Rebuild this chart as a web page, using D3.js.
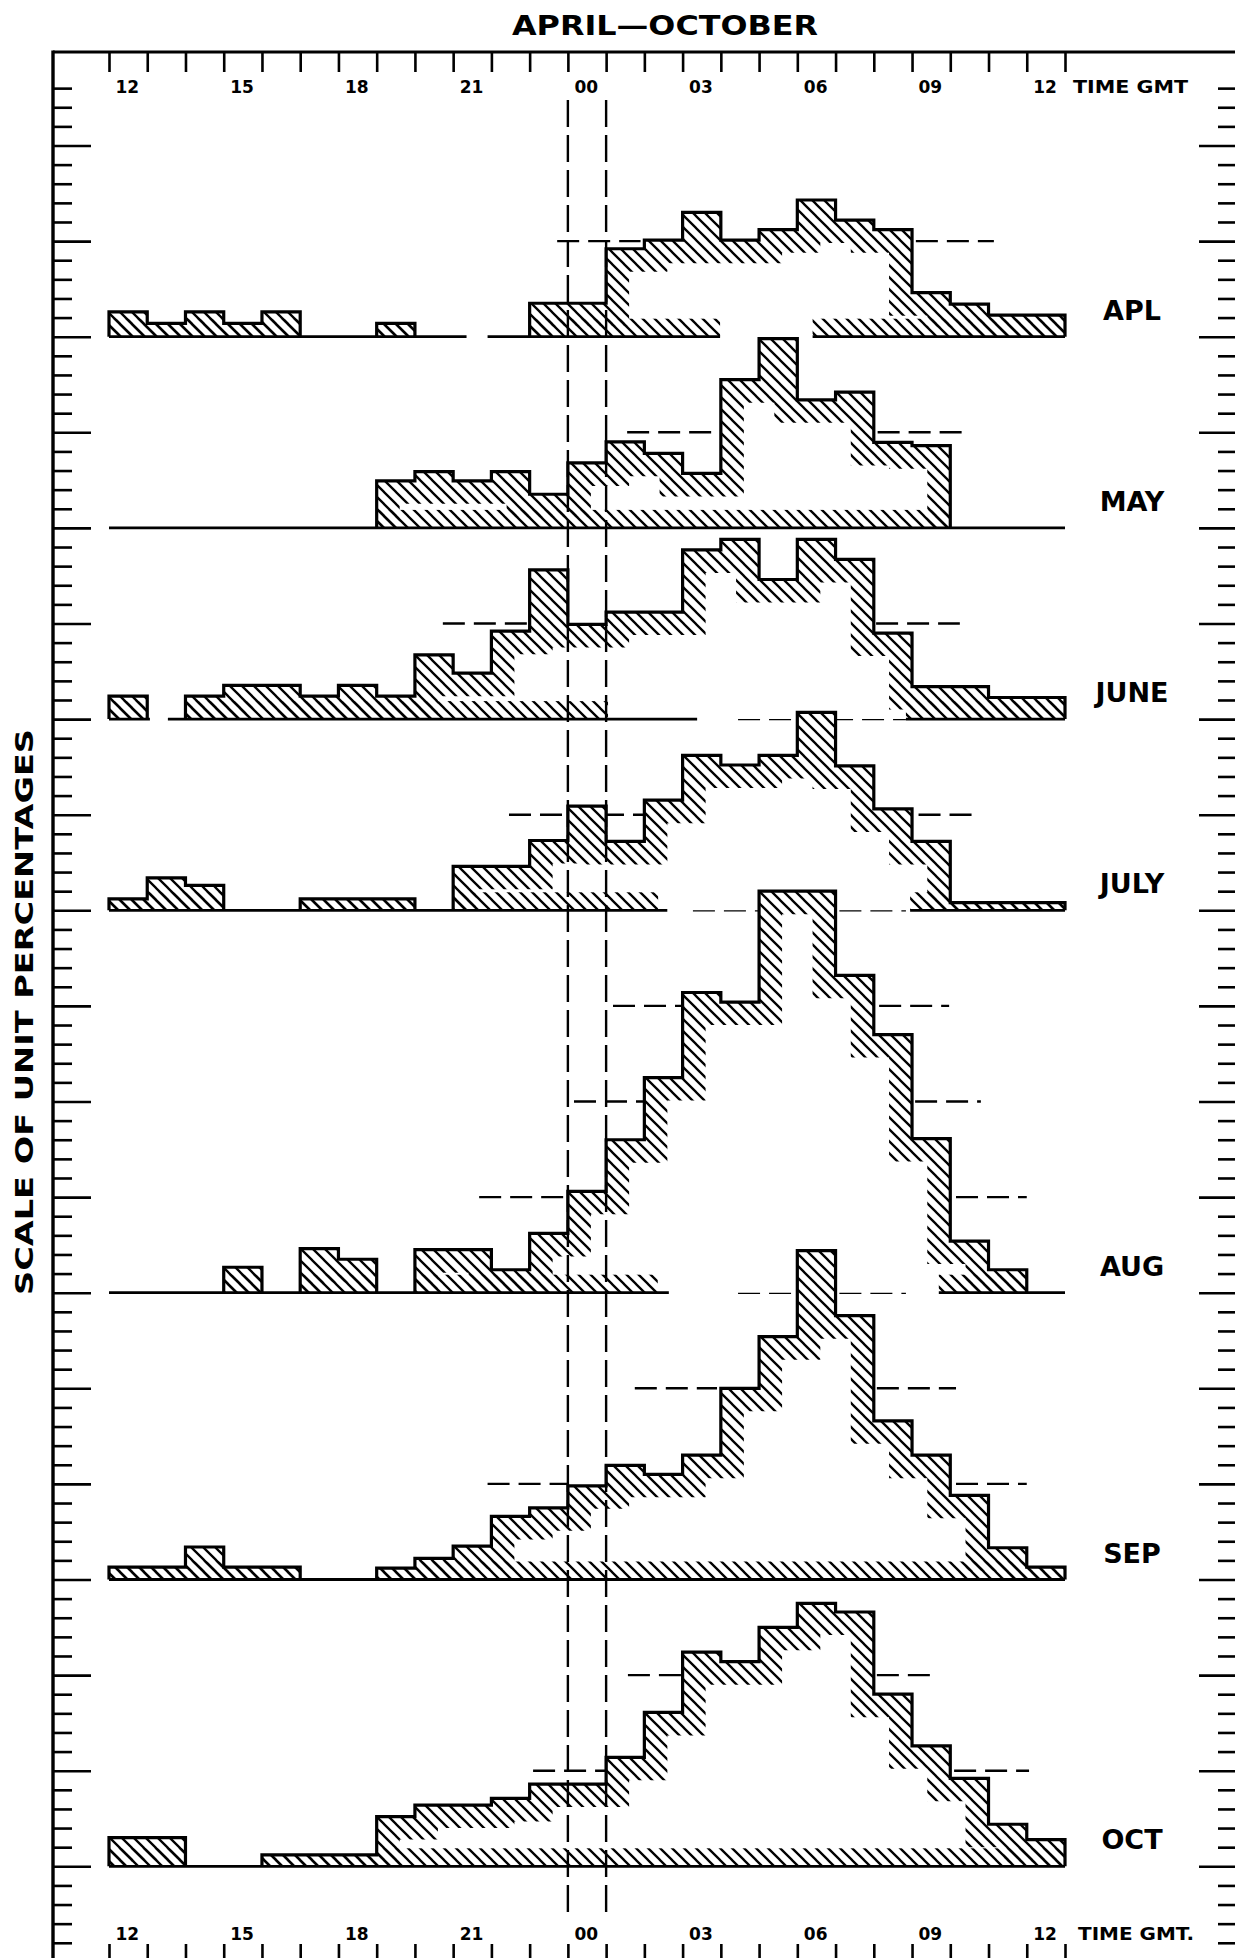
<!DOCTYPE html>
<html><head><meta charset="utf-8">
<script src="https://cdn.jsdelivr.net/npm/d3@7"></script>
<style>body{margin:0;background:#fff}svg{display:block}</style>
</head><body>
<svg id="c" width="1235" height="1958"></svg>
<script>
// ---------- DATA ----------
// 25 hourly bins, bin i covers hour (12+i) mod 24 GMT, from 12 GMT to 13 GMT next day
const binStartHour = [12,13,14,15,16,17,18,19,20,21,22,23,0,1,2,3,4,5,6,7,8,9,10,11,12];
const axisLabelBins = [0,3,6,9,12,15,18,21,24];
const axisLabels = ["12","15","18","21","00","03","06","09","12"];
const months = ["APL","MAY","JUNE","JULY","AUG","SEP","OCT"];

// values in unit percentages (one minor tick = 1 unit)
const apl  = [1.3,0.7,1.3,0.7,1.3,0,0,0.7,0,0,0,1.75,1.75,4.6,5.05,6.5,5.05,5.6,7.15,6.1,5.6,2.3,1.7,1.13,1.13];
const may  = [0,0,0,0,0,0,0,2.46,2.94,2.46,2.94,1.76,3.4,4.5,3.9,2.85,7.75,9.9,6.7,7.1,4.47,4.3,0,0,0];
const june = [1.2,0,1.2,1.76,1.76,1.2,1.76,1.2,3.36,2.4,4.6,7.8,4.95,5.6,5.6,8.85,9.4,7.3,9.4,8.35,4.5,1.7,1.7,1.13,1.13];
const july = [0.6,1.7,1.3,0,0,0.6,0.6,0.6,0,2.3,2.3,3.65,5.45,3.6,5.76,8.1,7.6,8.1,10.35,7.55,5.3,3.6,0.4,0.4,0.4];
const aug  = [0,0,0,1.33,0,2.3,1.75,0,2.25,2.25,1.2,3.1,5.3,8.0,11.25,15.7,15.2,21.0,21.0,16.6,13.5,8.06,2.7,1.2,0];
const sep  = [0.65,0.65,1.7,0.65,0.65,0,0,0.6,1.1,1.75,3.3,3.75,4.9,5.97,5.5,6.5,10.0,12.7,17.2,13.8,8.3,6.5,4.4,1.66,0.65];
const oct  = [1.5,1.5,0,0,0.6,0.6,0.6,2.6,3.2,3.2,3.55,4.3,4.3,5.7,8.05,11.2,10.7,12.5,13.75,13.3,9.0,6.3,4.6,2.2,1.4];
const series = [apl,may,june,july,aug,sep,oct];

// zero line of each month, in units below the April zero line
const panelUnitOffset = [0,10,20,30,50,65,80];

// solid zero-line stretches [from, to] in hours after 12 GMT
const baseSegs = [
  [[0,9.35],[9.9,15.98],[18.4,25]],
  [[0,25]],
  [[0,1.07],[1.54,15.38],[20.84,25]],
  [[0,14.6],[20.95,25]],
  [[0,14.64],[21.7,25]],
  [[0,25]],
  [[0,25]]
];
// hatched bands along the zero line
const bandSegs = [
  [[0,9.35],[9.9,15.98],[18.4,25]],
  [[0,25]],
  [[0,13.05],[20.84,25]],
  [[0,14.36],[20.95,25]],
  [[0,14.35],[21.7,25]],
  [[0,25]],
  [[0,25]]
];
// dashed reference lines [level, from, to]
const dashSegs = [
  [[5,11.72,13.9],[5,21.1,23.14]],
  [[5,13.55,15.9],[5,20.1,22.3]],
  [[5,8.73,10.95],[5,20.06,22.25]],
  [[5,10.46,14.0],[5,21.17,22.75],[10,16.45,20.84]],
  [[5,9.68,12.0],[5,22.15,24.0],[10,12.16,14.0],[10,21.08,22.8],[15,13.18,15.0],[15,20.14,21.97],[20,15.27,17.0],[20,19.1,20.84]],
  [[5,9.9,12.0],[5,22.15,24.0],[10,13.75,15.9],[10,20.08,22.15],[15,16.45,18.0],[15,19.1,20.84]],
  [[5,11.09,13.0],[5,22.1,24.06],[10,13.57,15.0],[10,20.08,21.65]]
];
const midnightBins = [12,13];

// ---------- DRAWING ----------
const FONT = "'DejaVu Sans', 'Liberation Sans', sans-serif";
const svg = d3.select("#c");
svg.append("rect").attr("width",1235).attr("height",1958).attr("fill","#fff");

const x = d3.scaleLinear().domain([0,25]).range([109,1065]);
const U = 19.12, Y0 = 336.7;
const y = d3.scaleLinear().domain([-15,85]).range([Y0-15*U, Y0+85*U]);

const defs = svg.append("defs");
const pat = defs.append("pattern").attr("id","hatch")
  .attr("patternUnits","userSpaceOnUse").attr("width",12).attr("height",12);
pat.append("path").attr("d","M-3,-3L15,15M-3,9L3,15M9,-3L15,3")
  .attr("stroke","#000").attr("stroke-width",2.3).attr("fill","none");

function runsOf(vals){
  const runs=[]; let s=null;
  vals.forEach((v,i)=>{
    if(v>0 && s===null) s=i;
    if((v<=0 || i===vals.length-1) && s!==null){
      const e = v>0 ? i : i-1; runs.push([s,e]); s=null;
    }
  });
  return runs;
}
function outlinePath(vals,off,run){
  const p=d3.path(); const yb=y(off);
  p.moveTo(x(run[0]),yb);
  for(let i=run[0];i<=run[1];i++){ p.lineTo(x(i),y(off-vals[i])); p.lineTo(x(i+1),y(off-vals[i])); }
  p.lineTo(x(run[1]+1),yb);
  return p.toString();
}

// dashed reference lines
const gDash = svg.append("g");
series.forEach((vals,pi)=>{
  const off = panelUnitOffset[pi];
  gDash.selectAll(null).data(dashSegs[pi]).join("line")
    .attr("x1",d=>x(d[1])).attr("x2",d=>x(d[2]))
    .attr("y1",d=>y(off-d[0])).attr("y2",d=>y(off-d[0]))
    .attr("stroke","#000").attr("stroke-width",2.4).attr("stroke-dasharray","22,9");
});

// histograms
series.forEach((vals,pi)=>{
  const off = panelUnitOffset[pi];
  const g = svg.append("g");
  const runs = runsOf(vals);
  const dOut = runs.map(r=>outlinePath(vals,off,r)).join("");
  const dArea = runs.map(r=>outlinePath(vals,off,r)+"Z").join("");
  const cid = "clip"+pi;
  defs.append("clipPath").attr("id",cid).append("path").attr("d",dArea);
  g.append("path").attr("d",dArea).attr("fill","#fff");
  const gh = g.append("g").attr("clip-path","url(#"+cid+")");
  gh.append("path").attr("d",dOut).attr("fill","none")
    .attr("stroke","url(#hatch)").attr("stroke-width",46).attr("stroke-linejoin","miter");
  gh.selectAll(null).data(bandSegs[pi]).join("rect")
    .attr("x",d=>x(d[0])).attr("width",d=>x(d[1])-x(d[0]))
    .attr("y",y(off)-18).attr("height",18).attr("fill","url(#hatch)");
  g.selectAll(null).data(baseSegs[pi]).join("line")
    .attr("x1",d=>x(d[0])).attr("x2",d=>x(d[1]))
    .attr("y1",y(off)).attr("y2",y(off))
    .attr("stroke","#000").attr("stroke-width",2.8);
  g.append("path").attr("d",dOut).attr("fill","none")
    .attr("stroke","#000").attr("stroke-width",3.2).attr("stroke-linejoin","miter");
  g.append("text").attr("x",1132).attr("y",y(off)-17)
    .attr("text-anchor","middle").attr("font-family",FONT).attr("font-weight","bold")
    .attr("font-size",27).text(months[pi]);
});

// vertical dashed lines at 00 and 01 GMT
svg.selectAll(null).data(midnightBins).join("line")
  .attr("x1",d=>x(d)).attr("x2",d=>x(d)).attr("y1",100).attr("y2",1915)
  .attr("stroke","#000").attr("stroke-width",2.4).attr("stroke-dasharray","27,8");

// frame
svg.append("line").attr("x1",53).attr("x2",1235).attr("y1",52).attr("y2",52)
  .attr("stroke","#000").attr("stroke-width",3.2);
svg.append("line").attr("x1",53).attr("x2",53).attr("y1",50.4).attr("y2",1958)
  .attr("stroke","#000").attr("stroke-width",3.4);

const labelOf = i => { const k = axisLabelBins.indexOf(i); return k>=0 ? axisLabels[k] : ""; };
function styleAxis(g){
  g.select(".domain").remove();
  g.selectAll(".tick line").attr("stroke","#000").attr("stroke-width",2.6);
  g.selectAll("text").attr("font-family",FONT).attr("font-weight","bold").attr("font-size",17).attr("fill","#000");
}
// top time axis
const gTop = svg.append("g").attr("transform","translate(0,52)")
  .call(d3.axisBottom(x).tickValues(d3.range(0,26)).tickSize(20).tickFormat(labelOf));
styleAxis(gTop);
gTop.selectAll("text").attr("x",6).attr("y",41).attr("dy",null).attr("text-anchor","start");
svg.append("text").attr("x",1073).attr("y",93).attr("font-family",FONT).attr("font-weight","bold")
  .attr("font-size",17).attr("textLength",115).attr("lengthAdjust","spacingAndGlyphs").text("TIME GMT");

// bottom time axis
const gBot = svg.append("g").attr("transform","translate(0,1958)")
  .call(d3.axisTop(x).tickValues(d3.range(0,26)).tickSize(14).tickFormat(labelOf));
styleAxis(gBot);
gBot.selectAll("text").attr("x",6).attr("y",-18).attr("dy",null).attr("text-anchor","start");
svg.append("text").attr("x",1078).attr("y",1940).attr("font-family",FONT).attr("font-weight","bold")
  .attr("font-size",17).attr("textLength",116).attr("lengthAdjust","spacingAndGlyphs").text("TIME GMT.");

// left and right unit scales
const unitTicks = d3.range(-13,85);
const gL = svg.append("g").attr("transform","translate(53,0)")
  .call(d3.axisRight(y).tickValues(unitTicks).tickSize(19).tickFormat(""));
styleAxis(gL);
gL.selectAll(".tick line").attr("x2",d=>d%5===0?38:19);
const gR = svg.append("g").attr("transform","translate(1235,0)")
  .call(d3.axisLeft(y).tickValues(unitTicks).tickSize(17).tickFormat(""));
styleAxis(gR);
gR.selectAll(".tick line").attr("x2",d=>d%5===0?-36:-17);

// titles
svg.append("text").attr("x",665).attr("y",35).attr("text-anchor","middle")
  .attr("font-family",FONT).attr("font-weight","bold").attr("font-size",27)
  .attr("textLength",306).attr("lengthAdjust","spacingAndGlyphs").text("APRIL—OCTOBER");
svg.append("text").attr("transform","translate(33,1012) rotate(-90)").attr("text-anchor","middle")
  .attr("font-family",FONT).attr("font-weight","bold").attr("font-size",25)
  .attr("textLength",566).attr("lengthAdjust","spacingAndGlyphs").text("SCALE OF UNIT PERCENTAGES");
</script>
</body></html>
